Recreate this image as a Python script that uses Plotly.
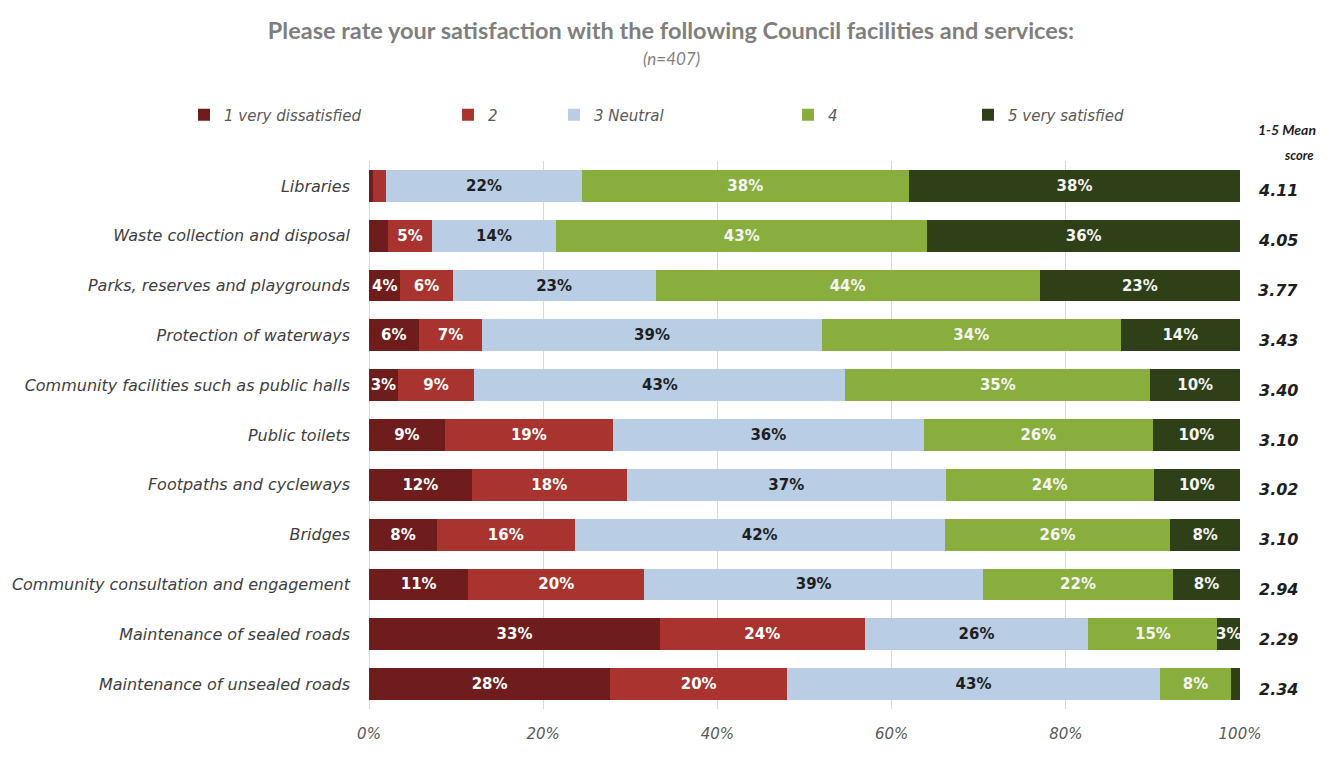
import plotly.graph_objects as go

categories = [
    "Libraries",
    "Waste collection and disposal",
    "Parks, reserves and playgrounds",
    "Protection of waterways",
    "Community facilities such as public halls",
    "Public toilets",
    "Footpaths and cycleways",
    "Bridges",
    "Community consultation and engagement",
    "Maintenance of sealed roads",
    "Maintenance of unsealed roads",
]
series_names = ["1 very dissatisfied", "2", "3 Neutral", "4", "5 very satisfied"]
very_dissatisfied = [0.5, 2.2, 3.6, 5.7, 3.3, 8.7, 11.8, 7.8, 11.4, 33.4, 27.7]
dissatisfied = [1.5, 5.0, 6.0, 7.3, 8.8, 19.3, 17.8, 15.8, 20.2, 23.5, 20.3]
neutral = [22.4, 14.3, 23.3, 39.0, 42.6, 35.7, 36.6, 42.5, 38.9, 25.7, 42.8]
satisfied = [37.6, 42.6, 44.1, 34.3, 35.0, 26.3, 23.9, 25.9, 21.8, 14.8, 8.2]
very_satisfied = [38.0, 35.9, 23.0, 13.7, 10.3, 10.0, 9.9, 8.0, 7.7, 2.6, 1.0]
mean_scores = ["4.11", "4.05", "3.77", "3.43", "3.40", "3.10", "3.02", "3.10", "2.94", "2.29", "2.34"]
x_ticks = [0, 20, 40, 60, 80, 100]

colors = ["#6E1C1C", "#A9332F", "#B9CDE5", "#8AAE3E", "#2F4019"]
text_colors = ["#FFFFFF", "#FFFFFF", "#1E1E1E", "#F4F4F4", "#F4F4F4"]
series_values = [very_dissatisfied, dissatisfied, neutral, satisfied, very_satisfied]
legend_ids = ["legend", "legend2", "legend3", "legend4", "legend5"]

# page has an 8px body margin: figure is drawn offset by 8px
OFF = 8
W, H = 1343 - OFF, 760 - OFF
# plot area in page pixels
PX0, PX1, PY0, PY1 = 369, 1240, 161, 709
L, R, T, B = PX0 - OFF, W - (PX1 - OFF), PY0 - OFF, H - (PY1 - OFF)
PW = PX1 - PX0
PH = PY1 - PY0


def px_x(p):
    return (p - PX0) / PW


def px_y(p):
    return (PY1 - p) / PH


# left edge (page pixel) of each legend entry
legend_px = [184, 448, 554, 788, 968]

fig = go.Figure()
for name, vals, col, tcol, lid in zip(series_names, series_values, colors, text_colors, legend_ids):
    labels = [f"{round(v)}%" if v >= 2.5 else "" for v in vals]
    fig.add_trace(go.Bar(
        y=categories, x=vals, name=name, orientation="h",
        marker=dict(color=col, line=dict(width=0)),
        text=labels, textposition="inside", insidetextanchor="middle",
        textangle=0, constraintext="none",
        textfont=dict(family="DejaVu Sans", size=15, color=tcol, weight="bold"),
        legend=lid, hoverinfo="x+y+name",
    ))

legend_common = dict(
    orientation="h", yanchor="middle", xanchor="left",
    font=dict(family="DejaVu Sans", size=15, color="#595959", style="italic"),
    bgcolor="rgba(0,0,0,0)", itemwidth=30, itemclick=False, itemdoubleclick=False,
)
layout_legends = {}
for lid, px in zip(legend_ids, legend_px):
    layout_legends[lid] = dict(legend_common, x=px_x(px), y=px_y(115))

fig.update_layout(
    width=W, height=H,
    barmode="stack", bargap=0.36,
    plot_bgcolor="white", paper_bgcolor="white",
    margin=dict(l=L, r=R, t=T, b=B, autoexpand=False),
    showlegend=True,
    uniformtext=dict(minsize=15, mode="show"),
    title=dict(
        text="<b>Please rate your satisfaction with the following Council facilities and services:</b>",
        x=(671 - OFF) / W, xref="container", xanchor="center",
        y=(H - (31 - OFF)) / H, yanchor="middle",
        font=dict(family="Lato", size=23.5, color="#7F7F7F"),
    ),
    xaxis=dict(
        range=[0, 100], tickvals=x_ticks, ticktext=[f"{t}%" for t in x_ticks],
        showgrid=True, gridcolor="#D9D9D9", gridwidth=1,
        zeroline=True, zerolinecolor="#D9D9D9", zerolinewidth=1,
        showline=False, ticks="", ticklabelstandoff=14,
        tickfont=dict(family="DejaVu Sans", size=15, color="#595959", style="italic"),
        fixedrange=True,
    ),
    yaxis=dict(
        autorange="reversed", showgrid=False, ticks="", ticklabelstandoff=18,
        tickfont=dict(family="DejaVu Sans", size=16, color="#404040", style="italic"),
        fixedrange=True,
    ),
    **layout_legends,
)

# subtitle
fig.add_annotation(
    text="<i>(n=407)</i>", xref="paper", yref="paper",
    x=px_x(671), y=px_y(58), showarrow=False,
    font=dict(family="Lato", size=17, color="#7F7F7F"),
    xanchor="center", yanchor="middle",
)

# mean score header
fig.add_annotation(
    text="<b><i>1-5 Mean</i></b>", xref="paper", yref="paper",
    x=px_x(1318), y=px_y(130), showarrow=False,
    font=dict(family="Lato", size=14, color="#1E1E1E"),
    xanchor="right", yanchor="middle",
)
fig.add_annotation(
    text="<b><i>score</i></b>", xref="paper", yref="paper",
    x=px_x(1316), y=px_y(155), showarrow=False,
    font=dict(family="Lato", size=13, color="#1E1E1E"),
    xanchor="right", yanchor="middle",
)

for cat, m in zip(categories, mean_scores):
    fig.add_annotation(
        text=f"<b><i>{m}</i></b>", xref="paper", yref="y",
        x=px_x(1300), y=cat, showarrow=False, yshift=-5,
        font=dict(family="DejaVu Sans", size=16, color="#1E1E1E"),
        xanchor="right", yanchor="middle",
    )

fig.write_html("out.html")
